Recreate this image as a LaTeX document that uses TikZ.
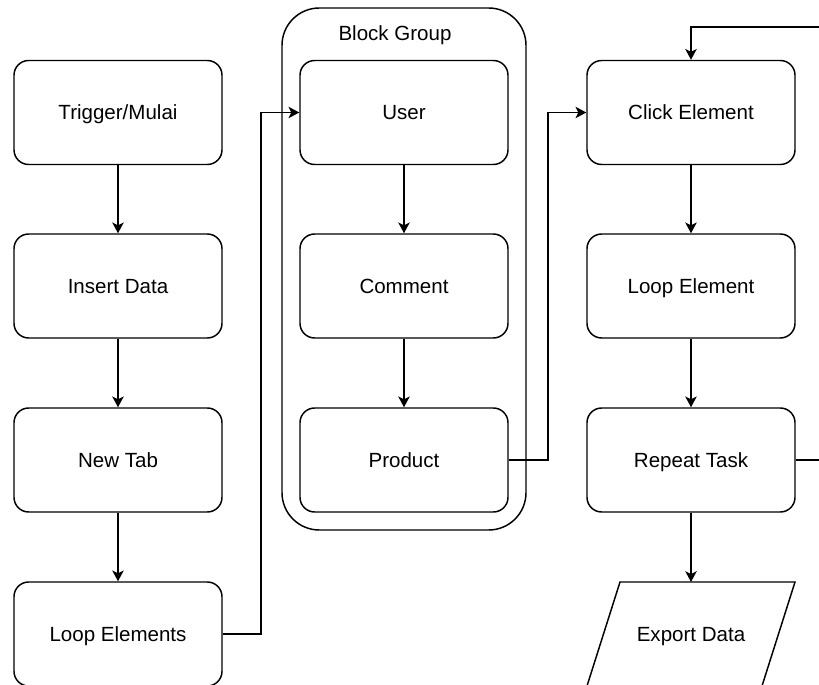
\documentclass[tikz,border=0pt]{standalone}
\usepackage{fontspec}
\setmainfont{Liberation Sans}
\usetikzlibrary{arrows.meta}
\tikzset{
  txt/.style={font=\fontsize{15.4}{18}\selectfont, text height=13pt, text depth=2pt},
  box/.style={draw, line width=1.1pt, rounded corners=11pt, minimum width=156pt, minimum height=78pt, inner sep=0pt, txt},
  arr/.style={line width=1.1pt, -{Stealth[length=8pt,width=8.5pt,inset=2pt]}},
}
\begin{document}
\begin{tikzpicture}[x=0.75pt,y=-0.75pt]
\useasboundingbox (0,0) rectangle (819,685);
\clip (0,0) rectangle (819,685);
\fill[white] (0,0) rectangle (819,685);
% group
\draw[line width=1.1pt, rounded corners=28pt] (282,8) rectangle (526,530);
\node[txt] (grplabel) at (395,33) {Block Group};
% left column
\node[box] (trigger) at (118,112.5) {Trigger/Mulai};
\node[box] (insert) at (118,286) {Insert Data};
\node[box] (newtab) at (118,460) {New Tab};
\node[box] (loopel) at (118,634) {Loop Elements};
% middle
\node[box] (user) at (404,112.5) {User};
\node[box] (comment) at (404,286) {Comment};
\node[box] (product) at (404,460) {Product};
% right
\node[box] (click) at (691,112.5) {Click Element};
\node[box] (loopone) at (691,286) {Loop Element};
\node[box] (repeat) at (691,460) {Repeat Task};
\draw[line width=1.1pt] (620,582) -- (795,582) -- (762,686) -- (587,686) -- cycle;
\node[txt] (export) at (691,634) {Export Data};
\coordinate (exporttop) at (691,582);
% connectors
\draw[arr] (trigger) -- (insert);
\draw[arr] (insert) -- (newtab);
\draw[arr] (newtab) -- (loopel);
\draw[arr] (user) -- (comment);
\draw[arr] (comment) -- (product);
\draw[arr] (click) -- (loopone);
\draw[arr] (loopone) -- (repeat);
\draw[arr] (repeat.south) -- (exporttop);
\draw[arr] (loopel.east) -- (261,634) |- (user.west);
\draw[arr] (product.east) -- (548,460) |- (click.west);
\draw[arr] (repeat.east) -- (840,460) -- (840,27) -| (click.north);
\end{tikzpicture}
\end{document}
